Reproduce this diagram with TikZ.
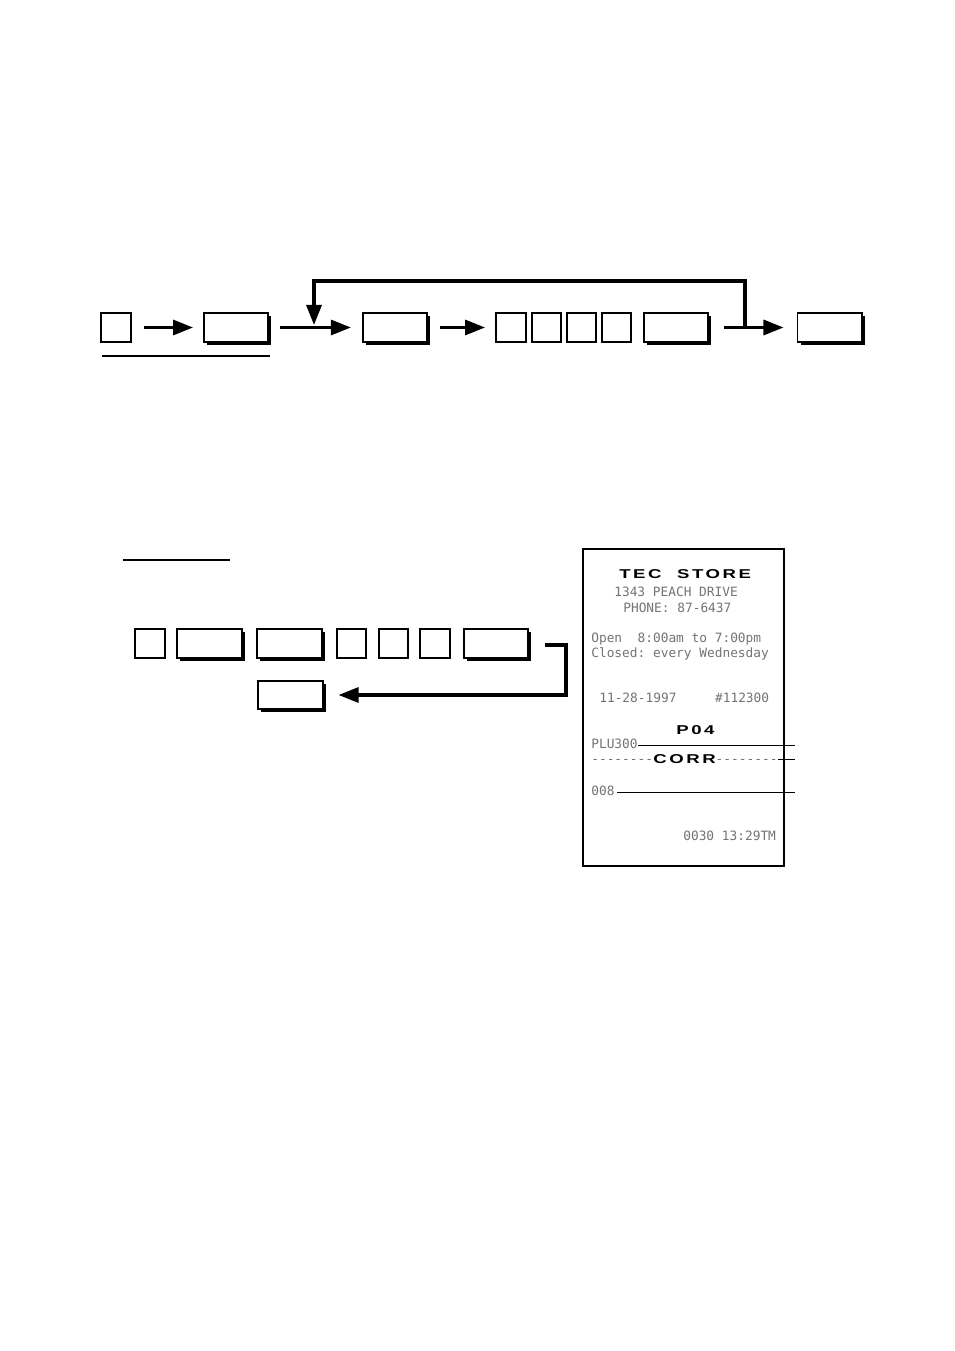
\documentclass[tikz,border=0pt]{standalone}
\usepackage{fontspec}
\usetikzlibrary{arrows.meta,shadows,calc}
\newfontfamily\rcptfont{DejaVu Sans Mono}
\newfontfamily\rcptwide[FakeStretch=1.45,LetterSpace=20]{Liberation Sans Bold}

\begin{document}
\begin{tikzpicture}[x=0.624pt,y=-0.624pt]
  \useasboundingbox (0,0) rectangle (954,1351);
  \tikzstyle{keybox}=[rectangle,draw,line width=1.2pt,minimum width=18.2pt,minimum height=18.2pt,inner sep=0pt,fill=white]
  \tikzstyle{fnbox}=[keybox,minimum width=40pt,minimum height=17.6pt,
                     drop shadow={shadow xshift=1.9pt,shadow yshift=-1.9pt,fill=black,opacity=1}]
  \tikzstyle{flow}=[line width=1.9pt,-{Triangle[length=12.5pt,width=9.4pt]}]

%% top row of keys
  \node[keybox] (k1) at (116,327.5) {};
  \node[fnbox]  (f1) at (236,327.5) {};
  \node[fnbox]  (f2) at (395,327.5) {};
  \foreach \n/\x in {1/511, 2/546.5, 3/581.5, 4/616.5}
    \node[keybox] (d\n) at (\x,327.5) {};
  \node[fnbox]  (f3) at (676,327.5) {};
  \node[fnbox]  (f4) at (829.5,327.5) {};
  \draw[line width=1.2pt] (102,356) -- (270,356);

%% top row arrows
  \draw[flow,shorten <=7.8pt,shorten >=6.2pt] (k1) -- (f1);
  \draw[flow,shorten <=6.9pt,shorten >=6.9pt] (f1) -- (f2);
  \draw[flow,shorten <=7.5pt,shorten >=6.5pt] (f2) -- (d1);
  \draw[flow,shorten <=9.4pt,shorten >=8.1pt] (f3) -- (f4);
  \coordinate (up)   at (745,327.5);
  \coordinate (top)  at (314,281);
  \coordinate (drop) at (314,325);
  \draw[flow] (up) |- (top) -- (drop);

%% example row of keys
  \draw[line width=1.2pt] (123,560) -- (230,560);
  \node[keybox] (b1) at (150,643.5) {};
  \node[fnbox]  (b2) at (209.5,643.5) {};
  \node[fnbox]  (b3) at (289.5,643.5) {};
  \foreach \n/\x in {4/351.5, 5/393.5, 6/435}
    \node[keybox] (b\n) at (\x,643.5) {};
  \node[fnbox]  (b7) at (496,643.5) {};
  \node[fnbox]  (b8) at (290.5,695) {};
  \coordinate (out)    at (545,645);
  \coordinate (corner) at (566,695);
  \draw[flow,shorten >=9.4pt] (out) -| (corner) -- (b8);

%% receipt
  \tikzstyle{every node}=[anchor=base west,inner sep=0pt,text=black!55,font=\rcptfont\fontsize{8}{9}\selectfont\frenchspacing]
  \tikzstyle{wide}=[text=black,font=\rcptwide\fontsize{8}{9}\selectfont]
  \tikzstyle{lead}=[line width=0.8pt]
  \node[draw,line width=1.3pt,minimum width=125.4pt,minimum height=197.8pt,anchor=center] (receipt) at (683.5,707.5) {};
  \node[wide] (t0) at (619,578.3) {TEC\ \ STORE};
  \node (t1) at (614,596)   {1343 PEACH DRIVE};
  \node (t2) at (623,612.7) {PHONE: 87-6437};
  \node (t3) at (591,642)   {Open~~8:00am to 7:00pm};
  \node (t4) at (591,657)   {Closed: every Wednesday};
  \node (t5) at (599,702.7) {11-28-1997~~~~~\#112300};
  \node[wide] (t6) at (676,734) {P04};
  \node (t7) at (591,748)   {PLU300};
  \node (t8a) at (591,763.3) {--------};
  \node[wide] (t8) at (653,763.3) {CORR};
  \node (t8b) at (715.4,763.3) {--------};
  \node (t9) at (591,795)   {008};
  \node (t10) at (683,840.7) {0030 13:29TM};

%% leader lines
  \coordinate (e1) at (795,745.7);
  \coordinate (e2) at (795,759.3);
  \coordinate (s3) at (617,792.3);
  \coordinate (e3) at (795,792.3);
  \draw[lead] (t7.east |- e1) -- (e1);
  \draw[lead] (t8b.east |- e2) -- (e2);
  \draw[lead] (s3) -- (e3);
\end{tikzpicture}
\end{document}
